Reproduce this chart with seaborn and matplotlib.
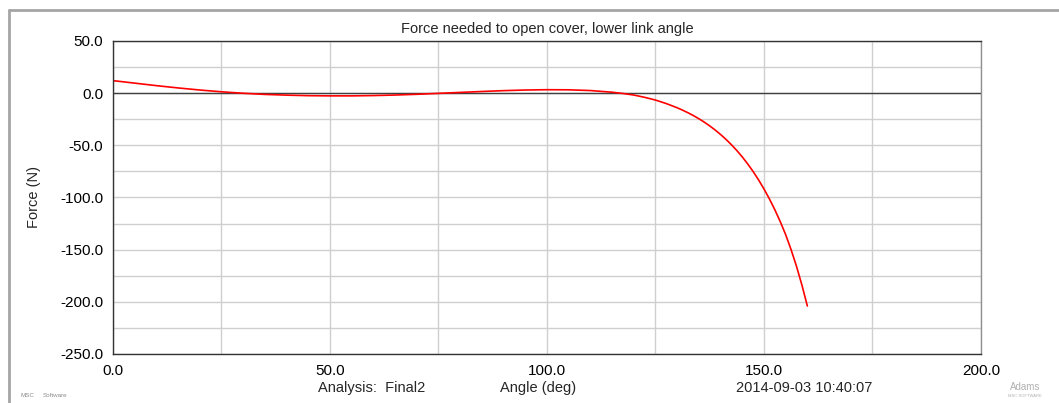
import matplotlib
matplotlib.use("Agg")
import matplotlib.pyplot as plt
from matplotlib.lines import Line2D
from matplotlib.ticker import MultipleLocator, FormatStrFormatter
import seaborn as sns
import pandas as pd

angle_deg = [0, 5, 10, 15, 20, 25, 30, 35, 40, 45, 50, 55, 60, 65, 70, 75,
             80, 85, 90, 95, 100, 105, 110, 115, 117.5, 120, 122.5, 125,
             127.5, 130, 131.25, 132.5, 133.75, 135, 136.25, 137.5, 138.75,
             140, 141.25, 142.5, 143.75, 145, 146.25, 147.5, 148.75, 150,
             151.25, 152.5, 153.75, 155, 156.25, 157.5, 158.75, 160]
force_n = [12.0, 9.6, 7.2, 5.0, 3.0, 1.3, -0.1, -1.2, -1.9, -2.4, -2.6, -2.6,
           -2.3, -1.8, -1.1, -0.2, 0.7, 1.6, 2.4, 3.0, 3.3, 3.2, 2.5, 0.9,
           -0.3, -1.8, -4.0, -6.6, -10.0, -14.0, -16.3, -18.8, -21.5, -24.5,
           -27.8, -31.4, -35.3, -39.6, -44.3, -49.4, -55.0, -61.1, -67.8,
           -75.1, -83.1, -91.8, -101.3, -111.7, -123.1, -135.6, -150.0,
           -166.0, -184.0, -204.0]

df = pd.DataFrame({"Angle": angle_deg, "Force": force_n})

sns.set_style("white")
plt.rcParams["font.family"] = ["Liberation Sans", "DejaVu Sans"]

fig = plt.figure(figsize=(10.59, 4.03), dpi=100)
ax = fig.add_axes([0.1067, 0.1216, 0.8196, 0.7767])

sns.lineplot(data=df, x="Angle", y="Force", color="#ff0000", linewidth=1.2, ax=ax)
ax.axhline(0, color="#404040", linewidth=1.0, zorder=1)

ax.set_xlim(0, 200)
ax.set_ylim(-250, 50)
ax.xaxis.set_major_locator(MultipleLocator(50))
ax.xaxis.set_minor_locator(MultipleLocator(25))
ax.yaxis.set_major_locator(MultipleLocator(50))
ax.yaxis.set_minor_locator(MultipleLocator(25))
ax.xaxis.set_major_formatter(FormatStrFormatter("%.1f"))
ax.yaxis.set_major_formatter(FormatStrFormatter("%.1f"))
ax.grid(True, which="both", color="#cfcfcf", linewidth=1.0)
ax.set_axisbelow(True)

ax.tick_params(axis="both", which="major", direction="out", length=5,
               width=0.8, color="#333333", labelsize=11, labelcolor="black", pad=2)
ax.tick_params(axis="both", which="minor", direction="out", length=5,
               width=0.8, color="#333333")
ax.tick_params(axis="x", which="both", bottom=False)

for side in ["left", "top", "bottom"]:
    ax.spines[side].set_color("#333333")
    ax.spines[side].set_linewidth(1.0)
ax.spines["right"].set_color("#909090")
ax.spines["right"].set_linewidth(1.0)

ax.set_xlabel("")
ax.set_ylabel("Force (N)", fontsize=10.5, labelpad=14)
ax.set_title("Force needed to open cover, lower link angle", fontsize=10.5, pad=6)

fig.text(0.300, 0.037, "Analysis:  Final2", fontsize=10.5, ha="left", va="center")
fig.text(0.508, 0.037, "Angle (deg)", fontsize=10.5, ha="center", va="center")
fig.text(0.695, 0.037, "2014-09-03 10:40:07", fontsize=10.5, ha="left", va="center")

fig.text(0.019, 0.018, "MSC", fontsize=4.5, color="#8a8a8a", ha="left", va="center")
fig.text(0.040, 0.018, "Software", fontsize=4.5, color="#8a8a8a", ha="left", va="center")
fig.text(0.968, 0.040, "Adams", fontsize=7, color="#b0b0b0", ha="center", va="center")
fig.text(0.968, 0.018, "MSC SOFTWARE", fontsize=3, color="#b0b0b0", ha="center", va="center")

fig.add_artist(Line2D([0.0085, 1.0], [1 - 10 / 403, 1 - 10 / 403],
                      transform=fig.transFigure, color="#a5a5a5", linewidth=2))
fig.add_artist(Line2D([0.0085, 0.0085], [0.0, 1 - 10 / 403],
                      transform=fig.transFigure, color="#a5a5a5", linewidth=2))

fig.savefig("out.png", dpi=100)
